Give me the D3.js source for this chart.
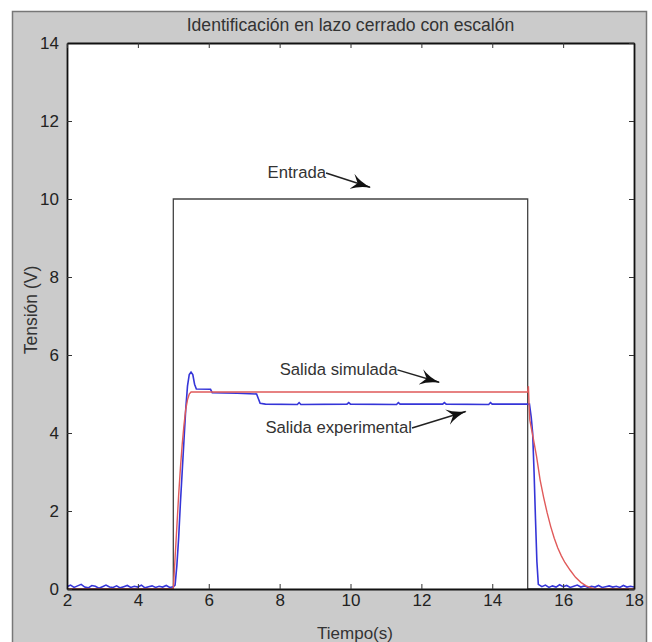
<!DOCTYPE html>
<meta charset="utf-8">
<style>
  body { margin: 0; background: #fff; }
  text { font-family: "Liberation Sans", Arial, sans-serif; fill: #333; }
  .tick text { font-size: 17px; fill: #222; }
</style>
<svg width="652" height="642"></svg>
<script src="https://d3js.org/d3.v7.min.js"></script>
<script>
// ---- data ----
var title = "Identificación en lazo cerrado con escalón";
var xLabel = "Tiempo(s)";
var yLabel = "Tensión (V)";
var xTicks = [2, 4, 6, 8, 10, 12, 14, 16, 18];
var yTicks = [0, 2, 4, 6, 8, 10, 12, 14];

// input step (Entrada)
var entrada = [[2, 0], [5, 0], [5, 10], [15, 10], [15, 0], [18, 0]];

// simulated output
var simulada = [[2, 0], [5, 0], [5.05, 0.8], [5.1, 1.6], [5.15, 2.4], [5.2, 3.1], [5.25, 3.7],
  [5.3, 4.2], [5.35, 4.6], [5.4, 4.85], [5.45, 5.0], [5.5, 5.05], [15, 5.05], [15.02, 5.2],
  [15.04, 4.7], [15.06, 4.33], [15.15, 3.9], [15.25, 3.4], [15.35, 2.8], [15.45, 2.35],
  [15.55, 1.95], [15.65, 1.6], [15.75, 1.3], [15.85, 1.05], [15.95, 0.85], [16.05, 0.68],
  [16.2, 0.48], [16.35, 0.3], [16.5, 0.17], [16.65, 0.08], [16.8, 0.03], [16.9, 0], [18, 0]];

// experimental output
var experimental = [[2.0, 0.06], [2.1, 0.1], [2.2, 0.04], [2.3, 0.08], [2.4, 0.12], [2.5, 0.05],
  [2.6, 0.03], [2.7, 0.09], [2.8, 0.07], [2.9, 0.02], [3.0, 0.06], [3.1, 0.1], [3.2, 0.05],
  [3.3, 0.04], [3.4, 0.08], [3.5, 0.03], [3.6, 0.06], [3.7, 0.09], [3.8, 0.04], [3.9, 0.07],
  [4.0, 0.05], [4.1, 0.1], [4.2, 0.03], [4.3, 0.06], [4.4, 0.08], [4.5, 0.04], [4.6, 0.07],
  [4.7, 0.05], [4.8, 0.09], [4.9, 0.04], [5.0, 0.06], [5.05, 0.1], [5.1, 0.6], [5.15, 1.3],
  [5.2, 2.2], [5.25, 3.0], [5.3, 3.8], [5.35, 4.6], [5.4, 5.2], [5.45, 5.5], [5.5, 5.56],
  [5.55, 5.5], [5.6, 5.25], [5.65, 5.13], [6.05, 5.12], [6.1, 5.03], [6.8, 5.02], [7.35, 5.0],
  [7.45, 4.76], [7.6, 4.74], [8.5, 4.73], [8.55, 4.78], [8.6, 4.73], [9.9, 4.74], [9.95, 4.78],
  [10.0, 4.74], [11.3, 4.73], [11.35, 4.78], [11.4, 4.74], [12.6, 4.74], [12.65, 4.78],
  [12.7, 4.74], [13.9, 4.73], [13.95, 4.78], [14.0, 4.74], [15.05, 4.74], [15.1, 4.4],
  [15.14, 4.0], [15.18, 3.0], [15.22, 1.8], [15.26, 0.7], [15.3, 0.12], [15.4, 0.06],
  [15.5, 0.1], [15.6, 0.04], [15.7, 0.08], [15.8, 0.05], [15.9, 0.11], [16.0, 0.06],
  [16.1, 0.09], [16.2, 0.04], [16.3, 0.07], [16.4, 0.1], [16.5, 0.05], [16.6, 0.08],
  [16.7, 0.04], [16.8, 0.07], [16.9, 0.05], [17.0, 0.09], [17.1, 0.04], [17.2, 0.06],
  [17.3, 0.08], [17.4, 0.05], [17.5, 0.07], [17.6, 0.04], [17.7, 0.09], [17.8, 0.05],
  [17.9, 0.07], [18.0, 0.05]];

// annotations: label, text position (data units), arrow tip (data units)
var notes = [
  { label: "Entrada", x: 7.66, y: 10.54, tip: [10.55, 10.3] },
  { label: "Salida simulada", x: 8.0, y: 5.49, tip: [12.5, 5.3] },
  { label: "Salida experimental", x: 7.6, y: 4.0, tip: [13.25, 4.55] }
];

var svg = d3.select("svg");
var m = { left: 67, right: 634, top: 43, bottom: 589 };

var x = d3.scaleLinear().domain([2, 18]).range([m.left, m.right]);
var y = d3.scaleLinear().domain([0, 14]).range([m.bottom, m.top]);

// figure background
svg.append("rect")
    .attr("x", 12.5).attr("y", 11.5)
    .attr("width", 634).attr("height", 650)
    .attr("fill", "#cbcbcb")
    .attr("stroke", "#777")
    .attr("stroke-width", 1.5);

svg.append("rect")
    .attr("x", m.left).attr("y", m.top)
    .attr("width", m.right - m.left).attr("height", m.bottom - m.top)
    .attr("fill", "#fff");

var defs = svg.append("defs");
defs.append("clipPath").attr("id", "clip")
  .append("rect")
    .attr("x", m.left).attr("y", m.top - 2)
    .attr("width", m.right - m.left).attr("height", m.bottom - m.top + 2);

// fat filled arrow head like the matlab annotation arrows
defs.append("marker")
    .attr("id", "arrow")
    .attr("viewBox", "0 0 20 16")
    .attr("refX", 19).attr("refY", 8)
    .attr("markerWidth", 20).attr("markerHeight", 16)
    .attr("markerUnits", "userSpaceOnUse")
    .attr("orient", "auto")
  .append("path")
    .attr("d", "M0,0 Q8,6 20,8 Q8,10 0,16 L6,8 Z")
    .attr("fill", "#111");

var line = d3.line()
    .x(function(d) { return x(d[0]); })
    .y(function(d) { return y(d[1]); });

var plot = svg.append("g").attr("clip-path", "url(#clip)");

plot.append("path")
    .datum(entrada)
    .attr("fill", "none")
    .attr("stroke", "#444")
    .attr("stroke-width", 1.3)
    .attr("d", line);

plot.append("path")
    .datum(experimental)
    .attr("fill", "none")
    .attr("stroke", "#3535d8")
    .attr("stroke-width", 1.6)
    .attr("d", line);

plot.append("path")
    .datum(simulada)
    .attr("fill", "none")
    .attr("stroke", "#e05a5a")
    .attr("stroke-width", 1.4)
    .attr("d", line);

// axes, ticks inside on all four sides
svg.append("g")
    .attr("transform", "translate(0," + m.bottom + ")")
    .call(d3.axisBottom(x).tickValues(xTicks).tickSizeInner(-5).tickSizeOuter(0).tickPadding(5));

svg.append("g")
    .attr("transform", "translate(" + m.left + ",0)")
    .call(d3.axisLeft(y).tickValues(yTicks).tickSizeInner(-5).tickSizeOuter(0).tickPadding(8));

svg.append("g")
    .attr("transform", "translate(0," + m.top + ")")
    .call(d3.axisTop(x).tickValues(xTicks).tickSizeInner(-5).tickSizeOuter(0).tickFormat(""));

svg.append("g")
    .attr("transform", "translate(" + m.right + ",0)")
    .call(d3.axisRight(y).tickValues(yTicks).tickSizeInner(-5).tickSizeOuter(0).tickFormat(""));

svg.selectAll(".domain").attr("stroke", "#111").attr("stroke-width", 1.8);
svg.selectAll(".tick line").attr("stroke", "#333");
svg.selectAll(".tick text").attr("font-size", null);

// titles
svg.append("text")
    .attr("x", (m.left + m.right) / 2).attr("y", 31)
    .attr("text-anchor", "middle")
    .attr("font-size", 17.6)
    .text(title);

svg.append("text")
    .attr("x", 355).attr("y", 639)
    .attr("text-anchor", "middle")
    .attr("font-size", 17)
    .text(xLabel);

svg.append("text")
    .attr("transform", "translate(37,310) rotate(-90)")
    .attr("text-anchor", "middle")
    .attr("font-size", 17.5)
    .text(yLabel);

// annotations
notes.forEach(function(n) {
  var t = svg.append("text")
      .attr("x", x(n.x)).attr("y", y(n.y))
      .attr("font-size", 16.7)
      .text(n.label);
  var w = t.node().getComputedTextLength();
  svg.append("line")
      .attr("x1", x(n.x) + w).attr("y1", y(n.y) - 5)
      .attr("x2", x(n.tip[0])).attr("y2", y(n.tip[1]))
      .attr("stroke", "#222")
      .attr("stroke-width", 1.5)
      .attr("marker-end", "url(#arrow)");
});
</script>
